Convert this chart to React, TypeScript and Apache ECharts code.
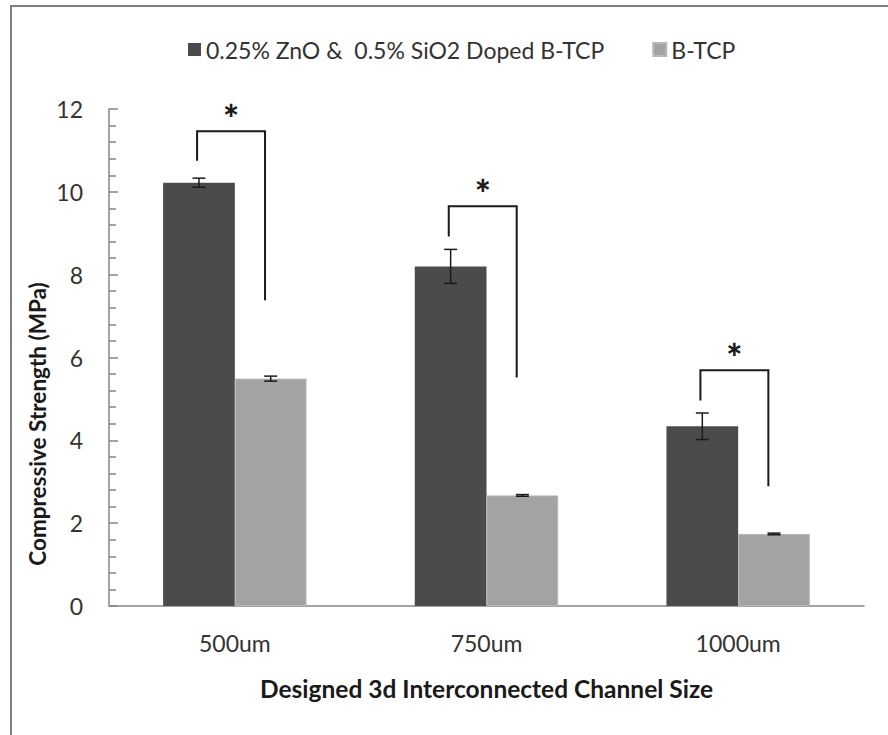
import React, { useEffect, useRef } from "react";
import * as echarts from "echarts";

const categories = ["500um", "750um", "1000um"];
const seriesNames = ["0.25% ZnO &  0.5% SiO2 Doped B-TCP", "B-TCP"];
const dopedValues = [10.22, 8.2, 4.34];
const dopedErrors = [0.11, 0.41, 0.32];
const btcpValues = [5.49, 2.67, 1.74];
const btcpErrors = [0.06, 0.02, 0.02];
const bracketLeftBottoms = [10.75, 8.92, 4.96];
const bracketTops = [11.46, 9.65, 5.69];
const bracketRightBottoms = [7.38, 5.52, 2.89];
const bracketMarks = ["*", "*", "*"];
const yTicks = { min: 0, max: 12, interval: 2 };

const FONT = 'Lato, "Open Sans", sans-serif';
const TEXT = "#333333";
const AXIS = "#868686";

export default function App() {
  const ref = useRef<HTMLDivElement>(null);
  useEffect(() => {
    if (!ref.current) return;
    const chart = echarts.init(ref.current, null, { renderer: "svg" });

    const errorSeries = (values: number[], errs: number[], side: number, name: string) => ({
      type: "custom",
      name: name + " err",
      z: 5,
      silent: true,
      data: values.map((v, i) => [i, v, errs[i]]),
      renderItem: (params: any, api: any) => {
        const idx = api.value(0);
        const v = api.value(1);
        const e = api.value(2);
        const bw = api.size([1, 0])[0];
        const barW = (bw * 0.57) / 2;
        const top = api.coord([idx, v + e]);
        const bot = api.coord([idx, v - e]);
        const x = top[0] + (side * barW) / 2;
        const cap = 6.5;
        const style = { stroke: "#1a1a1a", lineWidth: 1.5 };
        return {
          type: "group",
          children: [
            { type: "line", shape: { x1: x, y1: top[1], x2: x, y2: bot[1] }, style },
            { type: "line", shape: { x1: x - cap, y1: top[1], x2: x + cap, y2: top[1] }, style },
            { type: "line", shape: { x1: x - cap, y1: bot[1], x2: x + cap, y2: bot[1] }, style },
          ],
        };
      },
    });

    const option: any = {
      animation: false,
      textStyle: { fontFamily: FONT },
      legend: {
        data: seriesNames,
        left: 183,
        top: 33,
        icon: "rect",
        itemWidth: 13,
        itemHeight: 13,
        itemGap: 48,
        textStyle: { fontSize: 23, color: TEXT, fontFamily: FONT },
      },
      grid: { left: 109, right: 24, top: 109, bottom: 129, outerBoundsMode: "none" },
      xAxis: {
        type: "category",
        data: categories,
        axisLine: { lineStyle: { color: AXIS, width: 1.5 } },
        axisTick: { show: false },
        axisLabel: { fontSize: 23, color: TEXT, margin: 25, fontFamily: FONT },
        name: "Designed 3d Interconnected Channel Size",
        nameLocation: "middle",
        nameGap: 70,
        nameTextStyle: { fontSize: 24.5, fontWeight: "bold", color: "#1a1a1a", fontFamily: FONT },
      },
      yAxis: {
        type: "value",
        min: yTicks.min,
        max: yTicks.max,
        interval: yTicks.interval,
        axisLine: { show: true, lineStyle: { color: AXIS, width: 1.5 } },
        axisTick: { show: true, inside: true, length: 9, lineStyle: { color: AXIS, width: 1.5 } },
        minorTick: { show: true, splitNumber: 5, length: 7, lineStyle: { color: AXIS, width: 1.5 } },
        splitLine: { show: false },
        axisLabel: { fontSize: 23, color: TEXT, margin: 26, fontFamily: FONT },
      },
      graphic: [
        {
          type: "rect",
          z: -10,
          shape: { x: 11, y: 6, width: 1200, height: 1200 },
          style: { fill: "none", stroke: "#7f7f7f", lineWidth: 2 },
        },
        {
          type: "text",
          x: 37,
          y: 424,
          rotation: Math.PI / 2,
          style: {
            text: "Compressive Strength (MPa)",
            font: `bold 22.5px ${FONT}`,
            fill: "#1a1a1a",
            align: "center",
            verticalAlign: "middle",
          },
        },
      ],
      series: [
        {
          name: seriesNames[0],
          type: "bar",
          data: dopedValues,
          barGap: "0%",
          barCategoryGap: "43%",
          itemStyle: { color: "#4b4b4b" },
        },
        {
          name: seriesNames[1],
          type: "bar",
          data: btcpValues,
          barGap: "0%",
          barCategoryGap: "43%",
          itemStyle: { color: "#a3a3a3", borderColor: "#b8b8b8", borderWidth: 1 },
        },
        errorSeries(dopedValues, dopedErrors, -1, seriesNames[0]),
        errorSeries(btcpValues, btcpErrors, 1, seriesNames[1]),
        {
          type: "custom",
          name: "brackets",
          z: 6,
          silent: true,
          data: categories.map((c, i) => [i, bracketLeftBottoms[i], bracketTops[i], bracketRightBottoms[i]]),
          renderItem: (params: any, api: any) => {
            const idx = api.value(0);
            const lb = api.coord([idx, api.value(1)]);
            const tp = api.coord([idx, api.value(2)]);
            const rb = api.coord([idx, api.value(3)]);
            const bw = api.size([1, 0])[0];
            const xl = lb[0] - bw * 0.15;
            const xr = lb[0] + bw * 0.12;
            const style = { stroke: "#1a1a1a", lineWidth: 2, fill: "none" };
            return {
              type: "group",
              children: [
                {
                  type: "polyline",
                  shape: { points: [[xl, lb[1]], [xl, tp[1]], [xr, tp[1]], [xr, rb[1]]] },
                  style,
                },
                {
                  type: "text",
                  x: (xl + xr) / 2,
                  y: tp[1] - 13,
                  style: {
                    text: bracketMarks[params.dataIndex],
                    font: `900 38px ${FONT}`,
                    fill: "#1a1a1a",
                    align: "center",
                    verticalAlign: "middle",
                  },
                },
              ],
            };
          },
        },
      ],
    };
    chart.setOption(option);
    return () => chart.dispose();
  }, []);
  return (
    <div
      ref={ref}
      style={{ position: "absolute", left: 0, top: 0, width: 888, height: 735, background: "#fff" }}
    />
  );
}
